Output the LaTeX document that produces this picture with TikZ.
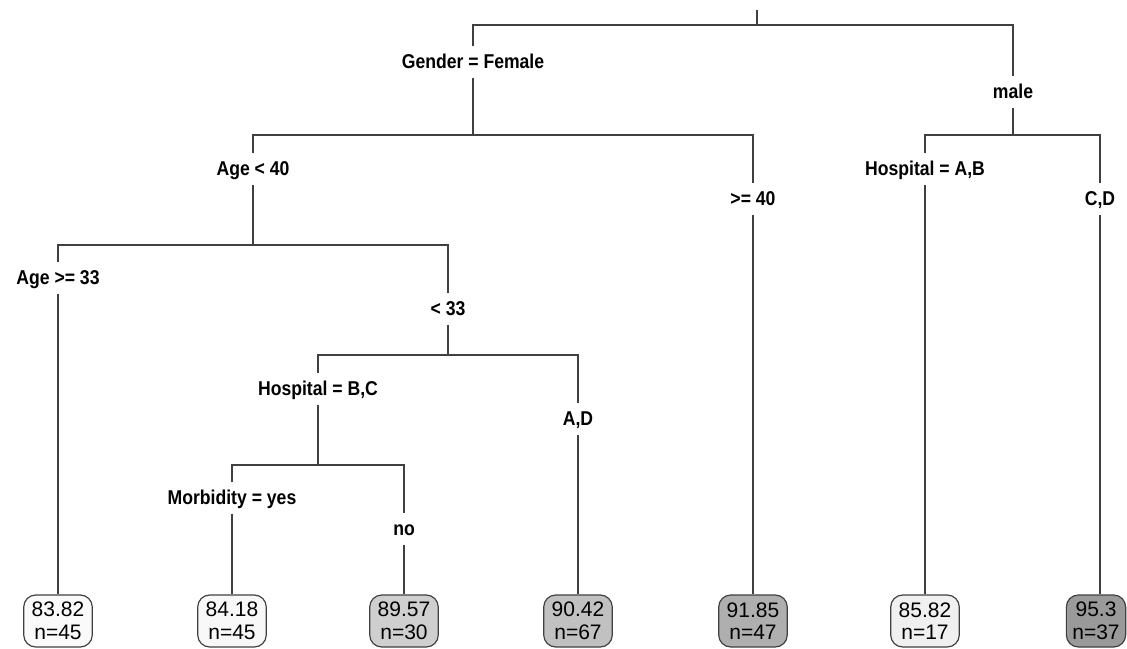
\documentclass[tikz,border=0pt]{standalone}
\usepackage{fontspec}
\setmainfont{Liberation Sans}
\newfontfamily\splitfont[FakeStretch=0.88]{Liberation Sans}
\usetikzlibrary{positioning}
\usepackage{xcolor}

\definecolor{leafa}{HTML}{FAFAFA}
\definecolor{leafb}{HTML}{F8F8F8}
\definecolor{leafc}{HTML}{CFCFCF}
\definecolor{leafd}{HTML}{C1C1C1}
\definecolor{leafe}{HTML}{AFAFAF}
\definecolor{leaff}{HTML}{F0F0F0}
\definecolor{leafg}{HTML}{9A9A9A}

\begin{document}
\begin{tikzpicture}[x=1pt,y=-1pt,
      split node/.style={font=\splitfont\bfseries\fontsize{20}{22}\selectfont,
          text height=13pt,text depth=0pt,inner xsep=2pt,inner ysep=9pt},
      leaf node/.style={rectangle,rounded corners=12pt,draw=black!75,line width=1.2pt,
          minimum height=52pt,inner xsep=8pt,inner ysep=0pt,align=center,
          font=\fontsize{21}{22.5}\selectfont},
      tree line/.style={draw=black!75,line width=1.3pt}]

    \useasboundingbox (0,0) rectangle (1127,648);

    % split points
    \coordinate (root) at (757,10);
    \coordinate (s0) at (757,25);
    \coordinate (s1) at (473,135);
    \coordinate (s2) at (1013,135);
    \coordinate (s3) at (253,245);
    \coordinate (s4) at (448,355);
    \coordinate (s5) at (318,465);

    \node[split node] (gf) at (473,62) {Gender = Female};
    \node[split node] (ml) at (1013,92) {male};
    \node[split node] (a40) at (253,169) {Age < 40};
    \node[split node] (g40) at (753,199) {>= 40};
    \node[split node] (hab) at (925,169) {Hospital = A,B};
    \node[split node] (hcd) at (1100,199) {C,D};
    \node[split node] (a33) at (58,278) {Age >= 33};
    \node[split node] (l33) at (448,309) {< 33};
    \node[split node] (hbc) at (318,389) {Hospital = B,C};
    \node[split node] (had) at (578,419) {A,D};
    \node[split node] (mby) at (232,498) {Morbidity = yes};
    \node[split node] (mbn) at (404,529) {no};

    % leaves
    \node[leaf node,fill=leafa] (lf1) at (58,621) {83.82\\n=45};
    \node[leaf node,fill=leafb] (lf2) at (232,621) {84.18\\n=45};
    \node[leaf node,fill=leafc] (lf3) at (404,621) {89.57\\n=30};
    \node[leaf node,fill=leafd] (lf4) at (578,621) {90.42\\n=67};
    \node[leaf node,fill=leafe] (lf5) at (753,621) {91.85\\n=47};
    \node[leaf node,fill=leaff] (lf6) at (925,621) {85.82\\n=17};
    \node[leaf node,fill=leafg,inner xsep=6pt] (lf7) at (1096,621) {95.3\\n=37};

    \draw[tree line] (root) -- (s0);
    \draw[tree line] (gf) |- (s0) -| (ml);
    \draw[tree line] (gf) -- (s1);
    \draw[tree line] (a40) |- (s1) -| (g40);
    \draw[tree line] (ml) -- (s2);
    \draw[tree line] (hab) |- (s2) -| (hcd);
    \draw[tree line] (a40) -- (s3);
    \draw[tree line] (a33) |- (s3) -| (l33);
    \draw[tree line] (l33) -- (s4);
    \draw[tree line] (hbc) |- (s4) -| (had);
    \draw[tree line] (hbc) -- (s5);
    \draw[tree line] (mby) |- (s5) -| (mbn);

    \draw[tree line] (a33) -- (lf1);
    \draw[tree line] (mby) -- (lf2);
    \draw[tree line] (mbn) -- (lf3);
    \draw[tree line] (had) -- (lf4);
    \draw[tree line] (g40) -- (lf5);
    \draw[tree line] (hab) -- (lf6);
    \draw[tree line] (hcd) -- (hcd |- lf7.north);

  \end{tikzpicture}
\end{document}
